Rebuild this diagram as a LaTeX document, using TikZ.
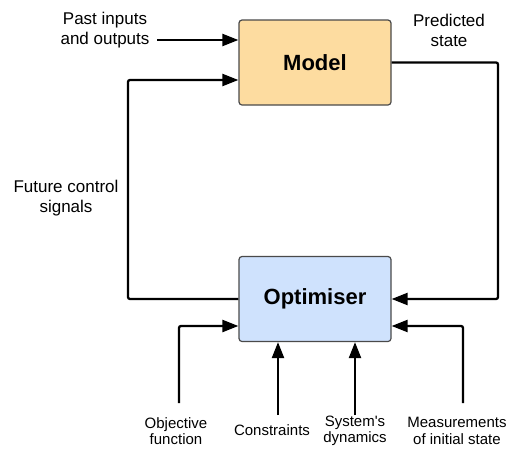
\documentclass[tikz,border=0pt]{standalone}
\usepackage{fontspec}
\setmainfont{Liberation Sans}
\usetikzlibrary{arrows.meta,calc}
\definecolor{modelfill}{HTML}{FDDCA0}
\definecolor{optfill}{HTML}{CFE2FD}
\definecolor{boxline}{HTML}{4A4A4A}
\tikzset{
  block/.style={draw=boxline, line width=1.2pt, rounded corners=3pt,
    minimum width=152pt, minimum height=85pt, inner sep=0pt,
    font=\fontsize{22}{24}\selectfont\bfseries},
  caption/.style={align=center, inner sep=0pt, font=\fontsize{17}{20}\selectfont},
  smallcap/.style={align=center, inner sep=0pt, font=\fontsize{15}{16.5}\selectfont},
  flow/.style={line width=2.3pt, rounded corners=2pt,
    -{Triangle[length=16pt,width=12pt]}}
}
\begin{document}
\begin{tikzpicture}[x=1pt,y=-1pt]
\useasboundingbox (0,0) rectangle (507,448);

% main blocks
\node[block, fill=modelfill] (model) at (315,62.5) {Model};
\node[block, fill=optfill] (opt) at (315,299) {Optimiser};

% labels
\node[caption] (past) at (105,30) {Past inputs\\and outputs};
\node[caption] (pred) at (449,30) {Predicted\\state};
\node[caption] (future) at (66,198) {Future control\\signals};
\node[smallcap] (objf) at (176,431) {Objective\\function};
\node[smallcap] (cons) at (272,430) {Constraints};
\node[smallcap] (dyn) at (355,431) {System\textquotesingle s\\dynamics};
\node[smallcap] (meas) at (457,431) {Measurements\\of initial state};

% free ends of the input arrows
\coordinate (pastend) at (157,40);
\coordinate (objend) at (179,403);
\coordinate (consend) at (278,415);
\coordinate (dynend) at (355,415);
\coordinate (measend) at (463,403);

% past data into the model
\draw[flow] (pastend) -- (pastend -| model.west);

% optimiser -> model (future control signals)
\draw[flow] (opt.west) -- (128,299) |- ($(model.west)+(0,17.5)$);

% model -> optimiser (predicted state)
\draw[flow] (model.east) -- (498,62.5) |- (opt.east);

% optimiser inputs from below
\draw[flow] (objend) |- ($(opt.west)+(0,27)$);
\draw[flow] (consend) -- (consend |- opt.south);
\draw[flow] (dynend) -- (dynend |- opt.south);
\draw[flow] (measend) |- ($(opt.east)+(0,27)$);
\end{tikzpicture}
\end{document}
